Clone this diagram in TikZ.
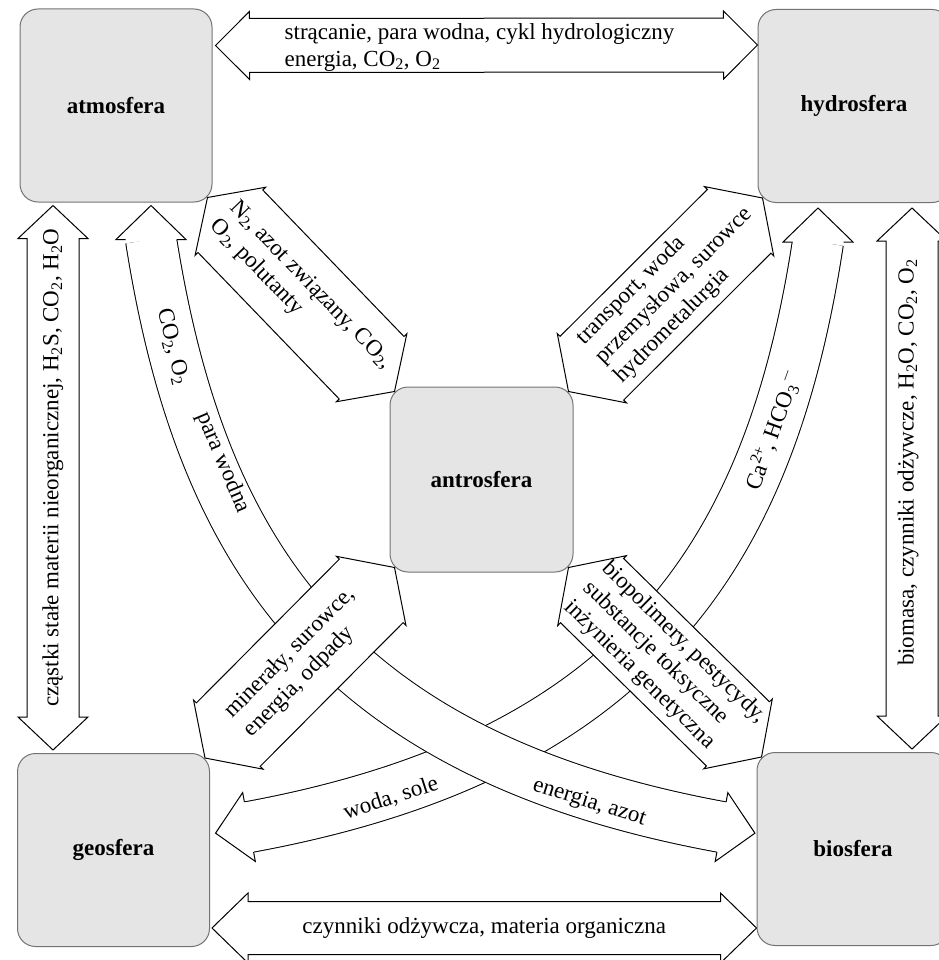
\documentclass[tikz,border=0pt]{standalone}
\usepackage{fontspec}
\setmainfont{Liberation Serif}
\usetikzlibrary{calc}

% one head of a block arrow: tip, point on the axis, length, half head, half shaft
\newcommand{\blockhead}[5]{%
  \fill[white] ($(#1)!#3+2pt!(#2)!#5-1pt!90:(#1)$) -- ($(#1)!#3!(#2)!#5-1pt!90:(#1)$)
    -- ($(#1)!#3!(#2)!#4!90:(#1)$) -- (#1) -- ($(#1)!#3!(#2)!#4!-90:(#1)$)
    -- ($(#1)!#3!(#2)!#5-1pt!-90:(#1)$) -- ($(#1)!#3+2pt!(#2)!#5-1pt!-90:(#1)$) -- cycle;
  \draw[arrowline] ($(#1)!#3!(#2)!#5!90:(#1)$) -- ($(#1)!#3!(#2)!#4!90:(#1)$)
    -- (#1) -- ($(#1)!#3!(#2)!#4!-90:(#1)$) -- ($(#1)!#3!(#2)!#5!-90:(#1)$);}

% straight block arrow with two heads: tips, length, half head, half shaft
\newcommand{\blockarrow}[5]{%
  \filldraw[arrowline] (#1) -- ($(#1)!#3!(#2)!#4!90:(#2)$) -- ($(#1)!#3!(#2)!#5!90:(#2)$)
    -- ($(#2)!#3!(#1)!#5!-90:(#1)$) -- ($(#2)!#3!(#1)!#4!-90:(#1)$) -- (#2)
    -- ($(#2)!#3!(#1)!#4!90:(#1)$) -- ($(#2)!#3!(#1)!#5!90:(#1)$)
    -- ($(#1)!#3!(#2)!#5!-90:(#2)$) -- ($(#1)!#3!(#2)!#4!-90:(#2)$) -- cycle;}

\begin{document}
\begin{tikzpicture}[x=1pt,y=-1pt,font=\fontsize{23}{27}\selectfont]
  \tikzstyle{sphere}=[draw=black!55, fill=gray!20, line width=1pt, rounded corners=18pt,
    minimum width=192pt, minimum height=193pt, font=\fontsize{23}{27}\selectfont\bfseries]
  \tikzstyle{arrowline}=[draw=black, fill=white, line width=1pt, line join=miter]
  \tikzstyle{band}=[draw=black, line width=1pt, double=white, double distance=50pt]
  \tikzstyle{lbl}=[inner sep=0pt, align=left]

  \useasboundingbox (0,0) rectangle (938,960);

  % spheres
  \node[sphere] (atmo) at (116,105.5) {atmosfera};
  \node[sphere] (hydro) at (854,106) {hydrosfera};
  \node[sphere, minimum width=183pt, minimum height=185pt] (antro) at (481.5,479.5) {antrosfera};
  \node[sphere] (geo) at (113.5,850) {geosfera};
  \node[sphere] (bio) at (853,849) {biosfera};

  % top and bottom
  \coordinate (ta) at ([shift={(3,-60)}]atmo.east);
  \coordinate (tb) at ([shift={(0,-61)}]hydro.west);
  \blockarrow{ta}{tb}{34pt}{34pt}{27pt}
  \path (ta) -- (tb) node[lbl, midway, xshift=-7pt, yshift=-2pt]
    {strącanie, para wodna, cykl hydrologiczny\\energia, CO\textsubscript{2}, O\textsubscript{2}};

  \coordinate (ba) at ([shift={(2,78)}]geo.east);
  \coordinate (bb) at ([shift={(0,79)}]bio.west);
  \blockarrow{ba}{bb}{36pt}{35pt}{26.5pt}
  \path (ba) -- (bb) node[lbl, midway] {czynniki odżywcza, materia organiczna};

  % left and right
  \coordinate (la) at ([shift={(-60.5,-3)}]geo.north);
  \coordinate (lb) at ([shift={(-63,3)}]atmo.south);
  \blockarrow{la}{lb}{33pt}{35pt}{26pt}
  \path (la) -- (lb) node[lbl, midway, yshift=10pt, rotate=90]
    {cząstki stałe materii nieorganicznej, H\textsubscript{2}S, CO\textsubscript{2}, H\textsubscript{2}O};

  \coordinate (ra) at ([shift={(59,-3)}]bio.north);
  \coordinate (rb) at ([shift={(58,5)}]hydro.south);
  \blockarrow{ra}{rb}{33pt}{35pt}{26pt}
  \path (ra) -- (rb) node[lbl, midway, xshift=-4pt, yshift=16pt, rotate=90]
    {biomasa, czynniki odżywcze, H\textsubscript{2}O, CO\textsubscript{2}, O\textsubscript{2}};

  % hydrosfera -- geosfera
  \coordinate (c2a) at ([shift={(39,-23)}]geo.east);
  \coordinate (c2b) at ([shift={(-36,39)}]hydro.south);
  \coordinate (c2t) at ([shift={(-36,5)}]hydro.south);
  \draw[band] (c2a) .. controls (641,755) and (771,550) .. (c2b)
    node[lbl, pos=0.13, sloped, below=-4pt] {woda, sole}
    node[lbl, pos=0.78, sloped] {Ca\textsuperscript{2+}, HCO\textsubscript{3}\textsuperscript{$-$}};
  \blockhead{c2t}{c2b}{34pt}{35pt}{25.5pt}
  \coordinate (c2s) at ($(c2a)!-34pt!(641,755)$);
  \blockhead{c2s}{c2a}{34pt}{35pt}{25.5pt}

  % atmosfera -- biosfera
  \coordinate (c1t) at ([shift={(35,3)}]atmo.south);
  \coordinate (c1a) at ([shift={(35,37)}]atmo.south);
  \coordinate (c1b) at ([shift={(-35,-22)}]bio.west);
  \draw[band] (c1a) .. controls (200,550) and (330,755) .. (c1b)
    node[lbl, pos=0.12, sloped] {CO\textsubscript{2}, O\textsubscript{2}}
    node[lbl, pos=0.27, sloped, above=1pt] {para wodna}
    node[lbl, pos=0.88, sloped, below=-3pt] {energia, azot};
  \blockhead{c1t}{c1a}{34pt}{35pt}{25.5pt}
  \coordinate (c1s) at ($(c1b)!-34pt!(330,755)$);
  \blockhead{c1s}{c1b}{34pt}{35pt}{25.5pt}

  % antrosfera with the corners
  \coordinate (na) at ([shift={(-5,-5)}]atmo.south east);
  \coordinate (nb) at ([shift={(5,5)}]antro.north west);
  \blockarrow{na}{nb}{33pt}{49pt}{45pt}
  \path (na) -- (nb) node[lbl, midway, sloped]
    {N\textsubscript{2}, azot związany, CO\textsubscript{2},\\O\textsubscript{2}, polutanty};

  \coordinate (wa) at ([shift={(-5,5)}]antro.north east);
  \coordinate (wb) at ([shift={(5,-5)}]hydro.south west);
  \blockarrow{wa}{wb}{33pt}{49pt}{45pt}
  \path (wa) -- (wb) node[lbl, pos=0.546, sloped]
    {transport, woda\\przemysłowa, surowce\\hydrometalurgia};

  \coordinate (ma) at ([shift={(-5,5)}]geo.north east);
  \coordinate (mb) at ([shift={(5,-5)}]antro.south west);
  \blockarrow{ma}{mb}{33pt}{49pt}{45pt}
  \path (ma) -- (mb) node[lbl, midway, sloped] {minerały, surowce,\\energia, odpady};

  \coordinate (pa) at ([shift={(-5,-5)}]antro.south east);
  \coordinate (pb) at ([shift={(5,5)}]bio.north west);
  \blockarrow{pa}{pb}{33pt}{49pt}{45pt}
  \path (pa) -- (pb) node[lbl, midway, sloped]
    {biopolimery, pestycydy,\\substancje toksyczne\\inżynieria genetyczna};
\end{tikzpicture}
\end{document}
